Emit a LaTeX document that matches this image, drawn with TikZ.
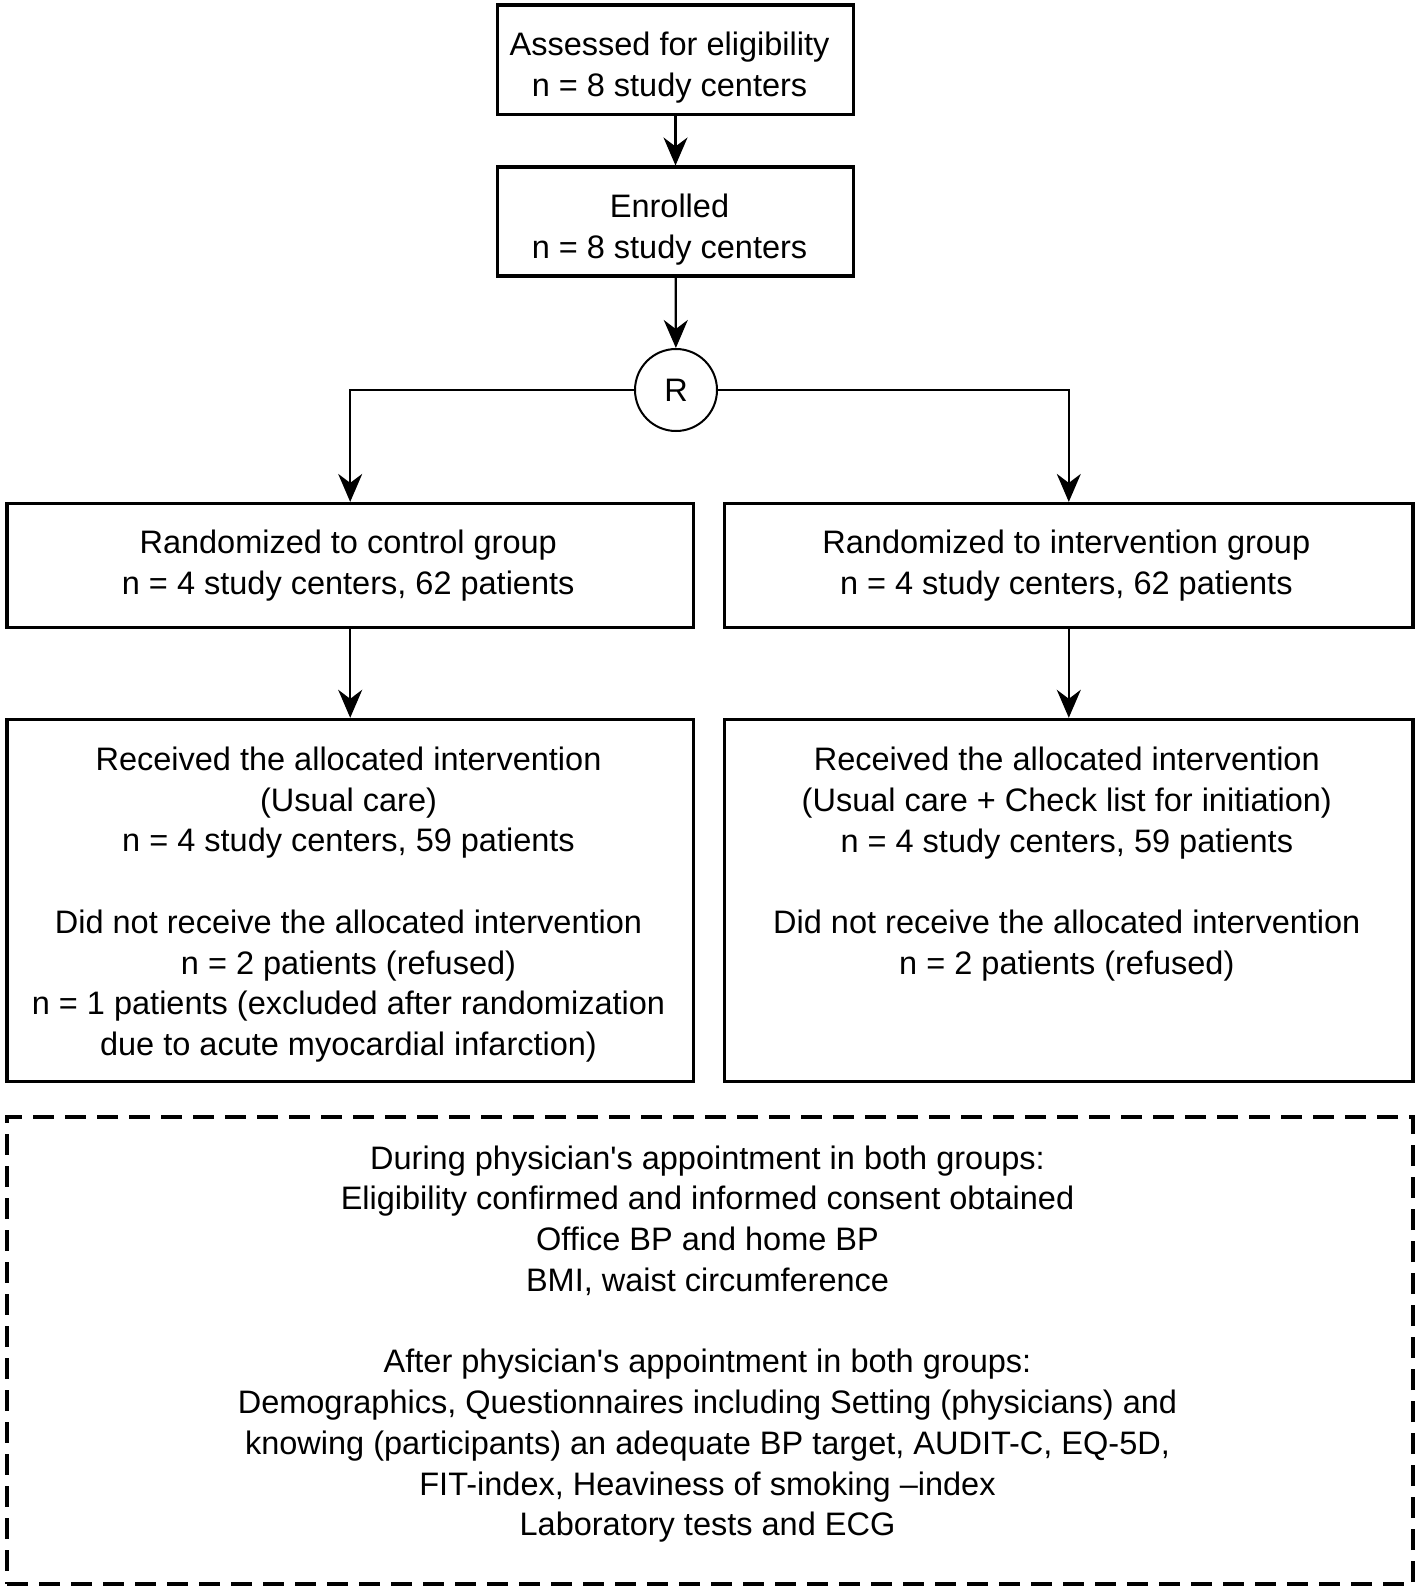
\documentclass[tikz,border=0pt]{standalone}
\usepackage{fontspec}
\setmainfont{Liberation Sans}
\usetikzlibrary{arrows.meta}
\begin{document}
\begin{tikzpicture}[x=1pt,y=-1pt,
  txt/.style={align=center, inner sep=0pt, font=\fontsize{32.5}{40.75}\selectfont},
  box/.style={draw, line width=3.5pt, inner sep=0pt},
  dashbox/.style={draw, line width=3.5pt, dash pattern=on 21pt off 11pt, inner sep=0pt},
  rnode/.style={txt, draw, circle, line width=2pt, minimum size=82pt},
  arr/.style={line width=2.2pt, -{Stealth[length=28pt,width=24pt,inset=9pt]}}]
\useasboundingbox (0,0) rectangle (1418,1589);

% boxes
\node[box, minimum width=355.7pt, minimum height=109.4pt] (b1) at (675.5,59.8) {};
\node[box, minimum width=355.7pt, minimum height=108.5pt] (b2) at (675.5,221.5) {};
\node[rnode] (r) at (676,390) {R};
\node[box, minimum width=686.2pt, minimum height=123.7pt] (c3L) at (350.2,565.5) {};
\node[box, minimum width=688.2pt, minimum height=123.7pt] (c3R) at (1068.8,565.5) {};
\node[box, minimum width=686.2pt, minimum height=361.9pt] (c4L) at (350.2,900.5) {};
\node[box, minimum width=688.2pt, minimum height=361.9pt] (c4R) at (1068.8,900.5) {};
\node[dashbox, minimum width=1405.8pt, minimum height=467.2pt] (notes) at (710,1350.6) {};

% texts
\node[txt] (b1t) at (669.5,67.4) {Assessed for eligibility\\n = 8 study centers};
\node[txt] (b2t) at (669.5,229.6) {Enrolled\\n = 8 study centers};
\node[txt] (c3Lt) at (348.2,565.5) {Randomized to control group\\n = 4 study centers, 62 patients};
\node[txt] (c3Rt) at (1066.3,565.5) {Randomized to intervention group\\n = 4 study centers, 62 patients};
\node[txt] (c4Lt) at (348.5,904.6)
  {Received the allocated intervention\\(Usual care)\\n = 4 study centers, 59 patients\\[40.75pt]
   Did not receive the allocated intervention\\n = 2 patients (refused)\\
   n = 1 patients (excluded after randomization\\due to acute myocardial infarction)};
\node[txt] (c4Rt) at (1066.8,864.2)
  {Received the allocated intervention\\(Usual care + Check list for initiation)\\n = 4 study centers, 59 patients\\[40.75pt]
   Did not receive the allocated intervention\\n = 2 patients (refused)};
\node[txt] (notestxt) at (707.5,1344.2)
  {During physician\textquotesingle s appointment in both groups:\\
   Eligibility confirmed and informed consent obtained\\
   Office BP and home BP\\
   BMI, waist circumference\\[40.75pt]
   After physician\textquotesingle s appointment in both groups:\\
   Demographics, Questionnaires including Setting (physicians) and\\
   knowing (participants) an adequate BP target, AUDIT-C, EQ-5D,\\
   FIT-index, Heaviness of smoking –index\\
   Laboratory tests and ECG};

% connectors
\draw[arr] (b1) -- (b2);
\draw[arr] (b2) -- (r);
\draw[arr] (r.west) -| (c3L.north);
\draw[arr] (r.east) -| (c3R.north);
\draw[arr] (c3L) -- (c4L);
\draw[arr] (c3R) -- (c4R);
\end{tikzpicture}
\end{document}
